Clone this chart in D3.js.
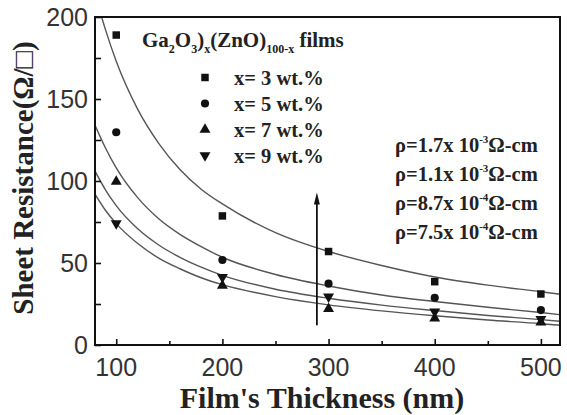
<!DOCTYPE html>
<html>
<head>
<meta charset="utf-8">
<script src="https://cdn.jsdelivr.net/npm/d3@7"></script>
<style>
  html, body { margin: 0; padding: 0; background: #fff; }
  #chart { width: 567px; height: 415px; }
  .tickLabel { font-family: "Liberation Sans", Arial, sans-serif; font-size: 25px; fill: #333; }
  .serif { font-family: "Liberation Serif", "Times New Roman", serif; font-weight: bold; fill: #222; }
</style>
</head>
<body>
<div id="chart"></div>
<script>

// measured points (sheet resistance, ohm/sq) at each film thickness (nm)
const thickness = [100, 200, 300, 400, 500];
const seriesLabels = ["x= 3 wt.%", "x= 5 wt.%", "x= 7 wt.%", "x= 9 wt.%"];
const rs3 = [189, 78.7, 57, 38.6, 31.1];
const rs5 = [129.7, 51.8, 37.4, 28.8, 21.3];
const rs7 = [99.6, 36.2, 22, 16.3, 13.8];
const rs9 = [74.2, 41.3, 29.5, 20.3, 15.7];

// fitted curves
const fitX = [80, 90, 100, 120, 140, 160, 180, 200, 250, 300, 350, 400, 450, 500, 518];
const fit1 = [214, 192, 173, 144, 123, 107, 95, 86, 68.5, 57, 48.5, 41.5, 36.5, 32.5, 31];
const fit2 = [134, 120, 108, 90, 77, 67.5, 60, 53.5, 43, 36, 30.5, 26.5, 23, 19.8, 18.5];
const fit3 = [106, 94.5, 85, 71, 61, 53.5, 47.5, 42.5, 34, 28.5, 24.3, 21, 18, 15.5, 14.5];
const fit4 = [92, 82, 74, 62, 53, 46.5, 41, 36.8, 29.5, 24.5, 20.8, 17.8, 15.2, 13, 12];

const rhoMantissa = ["1.7", "1.1", "8.7", "7.5"];
const rhoExponent = ["-3", "-3", "-4", "-4"];

const xTicks = [100, 200, 300, 400, 500];
const yTicks = [0, 50, 100, 150, 200];

function draw() {

    /*************************
    ***** SET DIMENSIONS *****
    *************************/

    const width = 567;
    const height = 415;
    const margin = {top: 17, left: 95, right: 7, bottom: 70};
    const plotWidth = width - margin.left - margin.right;
    const plotHeight = height - margin.top - margin.bottom;

    const svg = d3.select("#chart")
        .append("svg")
        .attr("width", width)
        .attr("height", height);

    const g = svg.append("g")
        .attr("transform", `translate(${margin.left},${margin.top})`);

    const x = d3.scaleLinear().domain([80, 518]).range([0, plotWidth]);
    const y = d3.scaleLinear().domain([0, 200]).range([plotHeight, 0]);

    g.append("clipPath").attr("id", "clip")
        .append("rect").attr("width", plotWidth).attr("height", plotHeight);

    /*********************
    ***** FIT CURVES *****
    *********************/

    const line = d3.line()
        .x(d => x(d[0]))
        .y(d => y(d[1]))
        .curve(d3.curveMonotoneX);

    [fit1, fit2, fit3, fit4].forEach(f => {
        g.append("path")
            .attr("clip-path", "url(#clip)")
            .attr("d", line(fitX.map((t, i) => [t, f[i]])))
            .attr("fill", "none")
            .attr("stroke", "#555")
            .attr("stroke-width", 1.4);
    });

    /*****************
    ***** POINTS *****
    *****************/

    const symbols = [
        d3.symbol().type(d3.symbolSquare).size(56),
        d3.symbol().type(d3.symbolCircle).size(52),
        d3.symbol().type(d3.symbolTriangle).size(52),
        d3.symbol().type(d3.symbolTriangle).size(52)
    ];
    const rotations = [0, 0, 0, 180];

    [rs3, rs5, rs7, rs9].forEach((s, k) => {
        g.selectAll(".pt" + k)
            .data(thickness.map((t, i) => [t, s[i]]))
            .enter()
            .append("path")
            .attr("d", symbols[k])
            .attr("transform", d => `translate(${x(d[0])},${y(d[1])}) rotate(${rotations[k]})`)
            .attr("fill", "#111");
    });

    /***************
    ***** AXES *****
    ***************/

    const xAxis = d3.axisBottom(x).tickValues(xTicks).tickSize(-6).tickFormat("");
    const xMinor = d3.axisBottom(x).tickValues(d3.range(150, 518, 100)).tickSize(-4).tickFormat("");
    const yAxis = d3.axisLeft(y).tickValues(d3.range(0, 201, 25)).tickSize(-6).tickFormat("");

    [xAxis, xMinor].forEach(a => {
        g.append("g").attr("transform", `translate(0,${plotHeight})`).call(a)
            .call(s => s.select(".domain").remove())
            .selectAll("line").attr("stroke", "#111").attr("stroke-width", 1.6);
    });
    g.append("g").call(yAxis)
        .call(s => s.select(".domain").remove())
        .selectAll("line").attr("stroke", "#111").attr("stroke-width", 1.6);

    g.append("rect")
        .attr("width", plotWidth)
        .attr("height", plotHeight)
        .attr("fill", "none")
        .attr("stroke", "#111")
        .attr("stroke-width", 2);

    g.selectAll(".xTick")
        .data(xTicks)
        .enter()
        .append("text")
        .attr("class", "tickLabel")
        .attr("x", d => x(d))
        .attr("y", plotHeight + 31)
        .attr("text-anchor", "middle")
        .text(d => d);

    g.selectAll(".yTick")
        .data(yTicks)
        .enter()
        .append("text")
        .attr("class", "tickLabel")
        .attr("x", -7)
        .attr("y", d => y(d) + 9)
        .attr("text-anchor", "end")
        .text(d => d);

    /*****************************
    ***** AXIS LABELS *****
    *****************************/

    svg.append("text")
        .attr("class", "serif")
        .attr("x", 322)
        .attr("y", 408)
        .attr("text-anchor", "middle")
        .style("font-size", "30px")
        .text("Film's Thickness (nm)");

    svg.append("text")
        .attr("class", "serif")
        .attr("transform", "translate(33,178) rotate(-90)")
        .attr("text-anchor", "middle")
        .style("font-size", "29px")
        .text("Sheet Resistance(Ω/□)");

    /*****************
    ***** LEGEND *****
    *****************/

    const title = svg.append("text")
        .attr("class", "serif")
        .attr("x", 142)
        .attr("y", 47)
        .style("font-size", "21px");
    const parts = [["Ga", 0], ["2", 1], ["O", 0], ["3", 1], [")", 0], ["x", 1], ["(ZnO)", 0], ["100-x", 1], [" films", 0]];
    let prevSub = 0;
    parts.forEach(p => {
        title.append("tspan")
            .attr("dy", (p[1] - prevSub) * 6)
            .style("font-size", p[1] ? "12px" : "21px")
            .text(p[0]);
        prevSub = p[1];
    });

    seriesLabels.forEach((lab, k) => {
        const yy = 77.5 + k * 26;
        svg.append("path")
            .attr("d", symbols[k])
            .attr("transform", `translate(205,${yy}) rotate(${rotations[k]})`)
            .attr("fill", "#111");
        svg.append("text")
            .attr("class", "serif")
            .attr("x", 234)
            .attr("y", yy + 7)
            .style("font-size", "20.5px")
            .text(lab);
    });

    rhoMantissa.forEach((m, k) => {
        const t = svg.append("text")
            .attr("class", "serif")
            .attr("x", 395)
            .attr("y", 152 + k * 29)
            .style("font-size", "20.5px");
        t.append("tspan").text("ρ=" + m + "x 10");
        t.append("tspan").attr("dy", -9).style("font-size", "11px").text(rhoExponent[k]);
        t.append("tspan").attr("dy", 9).text("Ω-cm");
    });

    /****************
    ***** ARROW *****
    ****************/

    g.append("line")
        .attr("x1", x(289)).attr("x2", x(289))
        .attr("y1", y(12)).attr("y2", y(88))
        .attr("stroke", "#111")
        .attr("stroke-width", 1.8);
    g.append("path")
        .attr("transform", `translate(${x(289)},${y(90)})`)
        .attr("d", "M0,-5 L-3,7 L3,7 Z")
        .attr("fill", "#111");
}

draw();
</script>
</body>
</html>
